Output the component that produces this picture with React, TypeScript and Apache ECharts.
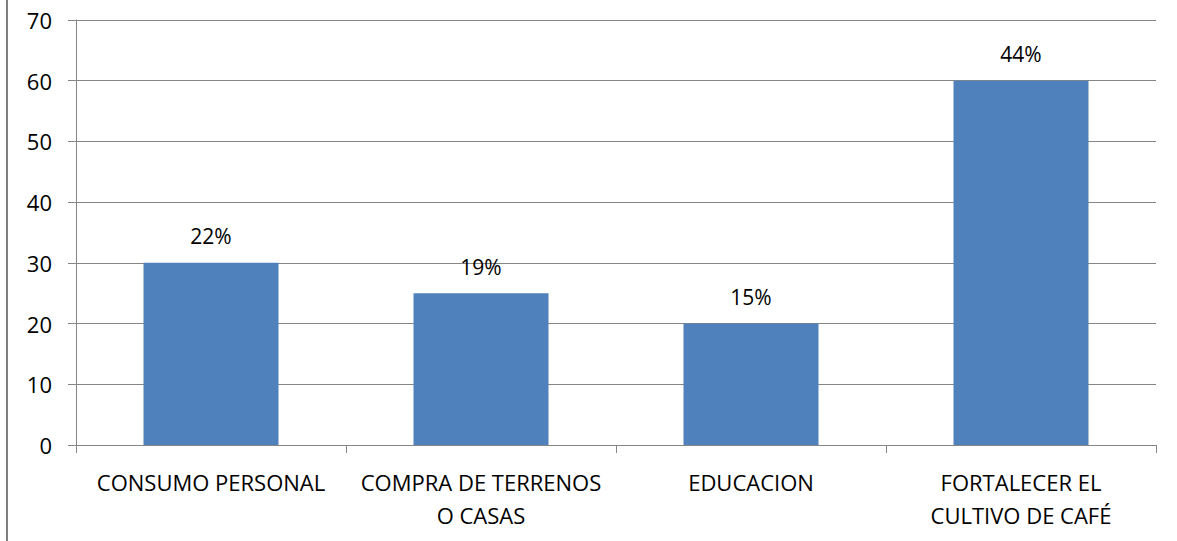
import React, { useEffect, useRef } from "react";
import * as echarts from "echarts";

const categories = [
  "CONSUMO PERSONAL",
  "COMPRA DE TERRENOS\nO CASAS",
  "EDUCACION",
  "FORTALECER EL\nCULTIVO DE CAFÉ",
];
const values = [30, 25, 20, 60];
const percentLabels = ["22%", "19%", "15%", "44%"];

const FONT = "'Open Sans', 'Noto Sans', sans-serif";
const GRAY = "#868686";

export default function App() {
  const ref = useRef<HTMLDivElement>(null);
  useEffect(() => {
    document.body.style.margin = "0";
    const chart = echarts.init(ref.current!, null, { renderer: "svg" });
    chart.setOption({
      animation: false,
      backgroundColor: "#ffffff",
      grid: { left: 76, right: 21, top: 20, bottom: 96, containLabel: false },
      graphic: [
        {
          type: "line",
          shape: { x1: 7, y1: 0, x2: 7, y2: 541 },
          style: { stroke: "#7f7f7f", lineWidth: 2 },
        },
      ],
      xAxis: {
        type: "category",
        data: categories,
        axisLine: { show: true, lineStyle: { color: GRAY, width: 1 } },
        axisTick: { show: true, length: 8, lineStyle: { color: GRAY } },
        axisLabel: {
          color: "#000",
          fontFamily: FONT,
          fontSize: 22,
          lineHeight: 33,
          margin: 20,
          interval: 0,
        },
      },
      yAxis: {
        type: "value",
        min: 0,
        max: 70,
        interval: 10,
        axisLine: { show: true, lineStyle: { color: GRAY, width: 1 } },
        axisTick: { show: true, length: 8, lineStyle: { color: GRAY } },
        splitLine: { show: true, lineStyle: { color: GRAY, width: 1 } },
        axisLabel: {
          color: "#000",
          fontFamily: FONT,
          fontSize: 22,
          margin: 24,
        },
      },
      series: [
        {
          type: "bar",
          data: values,
          barWidth: "50%",
          itemStyle: { color: "#4F81BD" },
          label: {
            show: true,
            position: "top",
            distance: 16,
            color: "#000",
            fontFamily: FONT,
            fontSize: 21,
            formatter: (p: any) => percentLabels[p.dataIndex],
          },
        },
      ],
    });
    return () => chart.dispose();
  }, []);
  return <div ref={ref} style={{ width: 1177, height: 541 }} />;
}
